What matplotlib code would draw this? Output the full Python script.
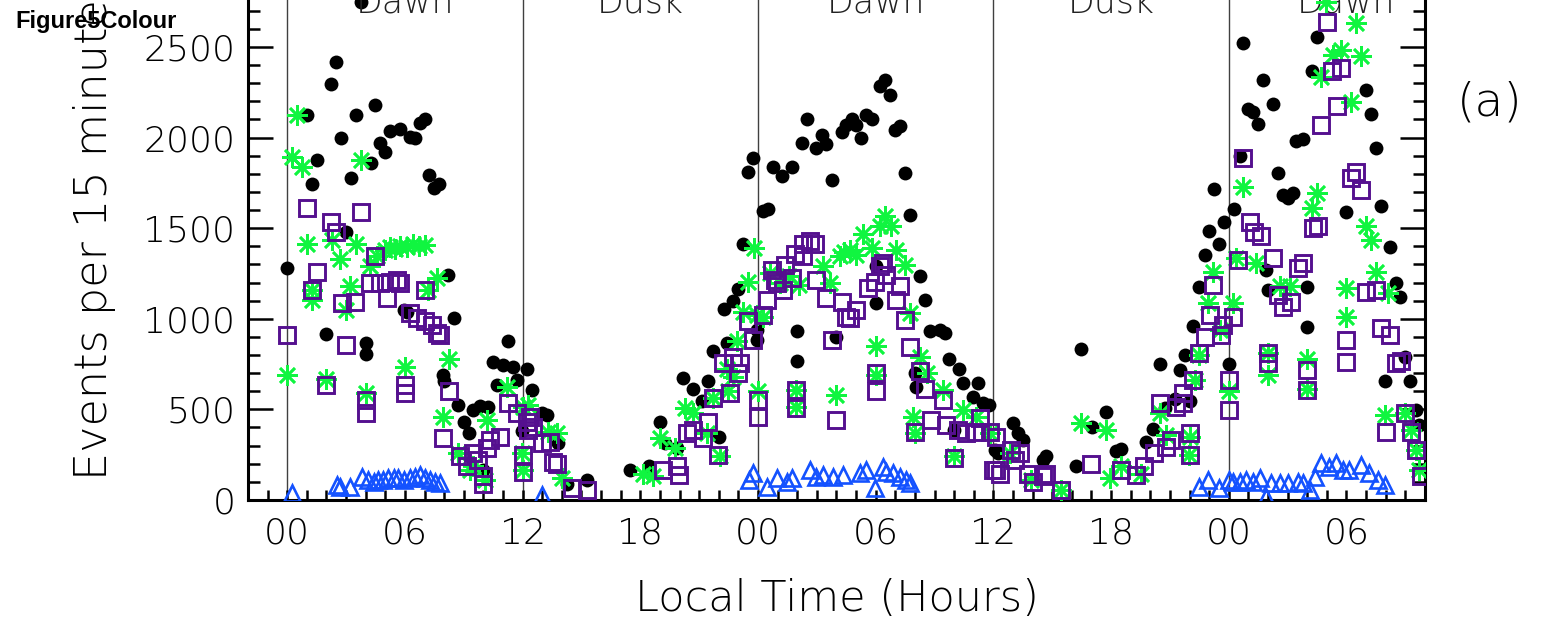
import matplotlib
matplotlib.use("Agg")
import matplotlib.pyplot as plt
from matplotlib.ticker import MultipleLocator, FixedLocator

# Continuous local time (hours since first local midnight) and counts per 15 min
black_t = [0.0, 1.0, 1.24, 1.51, 2.0, 2.24, 2.5, 2.75, 3.0, 3.26, 3.5, 3.75, 4.0, 4.0, 4.28, 4.48,
           4.74, 5.0, 5.25, 5.76, 5.93, 6.1, 6.27, 6.52, 6.78, 7.03, 7.23, 7.5, 7.76, 7.96, 8.0, 8.22,
           8.51, 8.73, 9.02, 9.29, 9.49, 9.83, 10.0, 10.25, 10.51, 10.68, 11.02, 11.24, 11.53, 11.7,
           11.96, 12.24, 12.5, 12.97, 13.23, 13.82, 14.25, 15.27, 17.47, 18.46, 19.0, 19.26, 19.85,
           20.19, 20.7, 21.13, 21.46, 21.72, 22.02, 22.26, 22.43, 22.74, 22.99, 23.24, 23.5, 23.76,
           23.93, 23.96, 24.27, 24.52, 24.74, 25.2, 25.71, 26.0, 26.0, 26.25, 26.5, 26.98, 27.24,
           27.49, 27.75, 27.97, 28.26, 28.51, 28.77, 28.99, 29.24, 29.53, 29.79, 30.0, 30.04, 30.21,
           30.46, 30.72, 30.97, 31.26, 31.48, 31.74, 31.99, 32.03, 32.25, 32.5, 32.76, 33.27, 33.52,
           33.74, 33.98, 34.25, 34.46, 34.96, 35.22, 35.47, 35.78, 36.07, 36.23, 37.0, 37.26, 37.51,
           38.53, 38.7, 40.23, 40.48, 41.04, 41.72, 42.27, 42.52, 43.76, 44.13, 44.47, 44.73, 45.24,
           45.49, 45.75, 46.0, 46.2, 46.47, 46.77, 46.98, 47.24, 47.5, 47.75, 48.0, 48.26, 48.58,
           48.72, 48.97, 49.23, 49.48, 49.74, 49.9, 49.99, 50.25, 50.5, 50.76, 51.01, 51.27, 51.44,
           51.78, 51.98, 51.98, 52.25, 52.49, 53.98, 55.0, 55.25, 55.5, 55.76, 55.98, 56.22, 56.5,
           56.73, 57.0, 57.24, 57.55, 57.72]
black_n = [1280, 2125, 1745, 1875, 915, 2295, 2415, 2000, 1480, 1775, 2125, 2750, 865, 805, 1860, 2180,
           1970, 1920, 2035, 2045, 1050, 1040, 2005, 2000, 2080, 2105, 1795, 1720, 1745, 690, 655, 1240,
           1005, 525, 430, 370, 495, 520, 165, 515, 760, 635, 745, 880, 735, 660,
           380, 725, 605, 480, 470, 315, 90, 110, 165, 190, 430, 315, 285,
           675, 615, 545, 655, 820, 350, 1055, 865, 1100, 1165, 1410, 1810, 1885,
           940, 885, 1595, 1605, 1840, 1790, 1835, 935, 765, 1970, 2105, 1945, 2015,
           1965, 1765, 900, 2030, 2070, 2100, 2070, 1995, 2125, 2100, 1085, 1290, 2285,
           2315, 2235, 2040, 2065, 1805, 1570, 700, 625, 1235, 1105, 935, 940, 920,
           780, 385, 725, 645, 570, 645, 535, 525, 275, 260, 425, 370, 330,
           220, 245, 190, 835, 405, 485, 270, 280, 320, 390, 750, 505, 555,
           720, 800, 545, 960, 1175, 1350, 1485, 1715, 1415, 1535, 750, 1605, 1900,
           2520, 2160, 2140, 2075, 2320, 1270, 1160, 2185, 1805, 1685, 1665, 1695, 1980,
           1990, 1175, 955, 2370, 2555, 1590, 2260, 2130, 1945, 1620, 655, 1395, 1200,
           1120, 790, 655, 495, 415]

green_t = [0.0, 0.24, 0.49, 0.75, 1.0, 1.26, 1.26, 2.0, 2.28, 2.7, 3.0, 3.21, 3.51, 3.75, 4.02, 4.23,
           4.57, 5.0, 5.25, 5.5, 5.76, 6.01, 6.1, 6.4, 6.7, 7.0, 7.2, 7.63, 7.96, 8.25, 8.73, 9.32,
           9.49, 10.09, 10.17, 11.19, 11.96, 12.01, 12.04, 12.29, 13.31, 13.74, 13.99, 18.15, 18.66,
           19.0, 19.77, 20.28, 20.7, 21.38, 21.72, 22.06, 22.4, 22.48, 22.74, 22.91, 23.24, 23.5,
           23.79, 23.93, 24.01, 24.27, 24.6, 25.1, 25.6, 25.96, 25.96, 26.1, 27.3, 27.66, 28.0,
           28.17, 28.4, 28.68, 29.0, 29.36, 29.79, 30.0, 30.0, 30.21, 30.46, 30.8, 31.06, 31.48,
           31.74, 31.9, 31.99, 32.25, 32.59, 33.43, 33.98, 34.46, 35.13, 35.81, 36.83, 37.93, 39.46,
           40.48, 41.72, 41.96, 42.52, 43.52, 44.47, 44.81, 45.97, 46.0, 46.26, 46.47, 46.93, 47.22,
           47.53, 48.0, 48.21, 48.38, 48.7, 49.4, 49.99, 49.99, 50.59, 51.1, 51.98, 51.98, 52.25,
           52.49, 52.71, 52.96, 53.3, 53.73, 53.98, 53.98, 54.23, 54.49, 54.75, 55.0, 55.25, 55.5,
           55.94, 56.1, 56.96, 57.3, 57.55, 57.72]
green_n = [690, 1895, 2125, 1840, 1410, 1160, 1105, 665, 1435, 1330, 1050, 1180, 1410, 1875, 590, 1290,
           1345, 1380, 1395, 1385, 1400, 735, 1395, 1410, 1400, 1405, 1160, 1225, 460, 780, 260, 165,
           185, 110, 440, 625, 260, 165, 515, 525, 375, 370, 120, 145, 130,
           340, 285, 505, 480, 370, 560, 240, 725, 600, 680, 875, 1040, 1205,
           1390, 1020, 600, 1010, 1250, 1195, 1235, 605, 515, 1185, 1290, 1195, 580,
           1345, 1370, 1380, 1350, 1470, 1390, 850, 690, 1510, 1565, 1510, 1380, 1295,
           1030, 460, 370, 790, 700, 605, 240, 495, 460, 370, 260, 110, 55,
           425, 385, 120, 185, 145, 480, 360, 250, 350, 660, 800, 1085, 1260,
           940, 600, 1085, 1335, 1725, 1305, 810, 690, 1180, 1180, 780, 615, 1610,
           1695, 2335, 2750, 2455, 2485, 1170, 1010, 2195, 2630, 2450, 1510, 1435, 1260,
           470, 1140, 480, 385, 275, 165]

purple_t = [0.0, 1.0, 1.26, 1.51, 1.99, 2.23, 2.5, 2.79, 3.0, 3.46, 3.75, 4.02, 4.02, 4.23, 4.48, 4.74,
            5.08, 5.25, 5.59, 5.76, 6.01, 6.01, 6.27, 6.6, 7.03, 7.03, 7.37, 7.63, 7.79, 7.96, 8.27,
            8.81, 9.15, 9.49, 9.75, 10.0, 10.0, 10.17, 10.34, 10.85, 11.27, 11.7, 12.04, 12.04, 12.2,
            12.29, 12.38, 12.55, 12.97, 13.4, 13.57, 13.74, 14.5, 15.27, 19.17, 19.85, 19.98, 20.36,
            20.7, 21.2, 21.46, 21.72, 21.97, 22.23, 22.57, 22.74, 22.99, 23.08, 23.5, 23.75, 24.01,
            24.01, 24.27, 24.44, 24.69, 24.86, 24.95, 25.29, 25.37, 25.71, 25.88, 25.96, 25.96, 26.3,
            26.3, 26.64, 26.9, 26.98, 27.49, 27.75, 28.0, 28.26, 28.51, 28.68, 29.02, 29.62, 29.95,
            30.0, 30.0, 30.21, 30.38, 30.54, 31.06, 31.23, 31.48, 31.74, 31.99, 32.25, 32.5, 32.84,
            33.43, 33.6, 33.98, 34.2, 34.62, 35.13, 35.3, 35.81, 35.98, 36.15, 36.15, 36.32, 36.91,
            37.08, 37.34, 37.76, 38.02, 38.53, 38.7, 39.46, 40.99, 42.52, 43.28, 43.7, 44.21, 44.47,
            44.81, 45.07, 45.32, 45.66, 45.66, 46.0, 46.0, 46.2, 46.47, 46.77, 47.02, 47.22, 47.61,
            47.7, 48.0, 48.0, 48.21, 48.47, 48.72, 49.07, 49.3, 49.66, 49.99, 49.99, 50.25, 50.5,
            50.76, 51.18, 51.52, 51.78, 51.98, 51.98, 52.3, 52.55, 52.71, 53.0, 53.26, 53.5, 53.73,
            53.98, 53.98, 54.23, 54.49, 54.75, 55.0, 55.48, 55.76, 56.02, 56.2, 56.53, 56.79, 56.96,
            57.3, 57.55, 57.81]
purple_n = [910, 1610, 1160, 1260, 635, 1535, 1480, 1085, 855, 1095, 1590, 550, 480, 1195, 1345, 1195,
            1115, 1205, 1215, 1195, 635, 590, 1030, 1005, 985, 1160, 965, 920, 910, 340, 600,
            240, 185, 260, 220, 130, 90, 285, 330, 350, 535, 480, 250, 155, 430,
            385, 460, 405, 315, 320, 210, 200, 65, 55, 165, 185, 140, 370,
            385, 340, 430, 560, 250, 755, 590, 790, 700, 755, 985, 885, 550,
            460, 1020, 1105, 1270, 1215, 1195, 1160, 1295, 1225, 1360, 605, 505, 1345,
            1410, 1430, 1410, 1215, 1115, 885, 440, 1095, 1010, 1005, 1050, 1170, 1205,
            700, 600, 1290, 1305, 1240, 1105, 1180, 995, 845, 375, 710, 615, 440,
            550, 415, 230, 385, 370, 375, 450, 375, 165, 350, 165, 145, 275,
            220, 260, 145, 100, 130, 145, 55, 200, 165, 140, 185, 260, 535,
            295, 330, 515, 535, 590, 370, 250, 660, 810, 900, 1020, 1185, 910,
            965, 660, 495, 1010, 1325, 1885, 1535, 1480, 1455, 810, 755, 1335, 1130,
            1065, 1095, 1280, 1305, 720, 605, 1500, 1510, 2070, 2640, 2370, 2175, 2385,
            885, 760, 1775, 1810, 1710, 1150, 1160, 950, 375, 910, 755, 765, 480,
            375, 275, 130]

blue_t = [0.24, 2.53, 2.7, 3.21, 3.8, 4.14, 4.4, 4.65, 4.9, 5.16, 5.42, 5.67, 5.93, 6.27, 6.52, 6.78,
          7.03, 7.28, 7.54, 7.79, 12.97, 23.55, 23.77, 24.44, 24.95, 25.46, 25.71, 26.64, 26.98,
          27.32, 27.83, 28.34, 29.19, 29.53, 29.95, 30.38, 30.55, 30.89, 31.23, 31.57, 31.74, 46.5,
          46.93, 47.5, 48.0, 48.21, 48.55, 48.89, 49.23, 49.57, 49.9, 50.16, 50.59, 51.01, 51.52,
          51.78, 52.12, 52.37, 52.71, 53.13, 53.47, 53.81, 54.15, 54.75, 55.17, 55.6, 55.94]
blue_n = [37, 83, 73, 73, 129, 110, 101, 110, 110, 120, 120, 120, 110, 120, 129, 138,
          120, 110, 101, 92, 28, 110, 150, 73, 120, 101, 120, 166, 129,
          138, 129, 138, 147, 166, 65, 184, 156, 147, 129, 110, 92, 73,
          110, 65, 110, 101, 101, 110, 101, 120, 18, 92, 92, 92, 101,
          92, 55, 129, 202, 184, 202, 166, 166, 193, 147, 110, 83]

sectors = ["Dawn", "Dusk", "Dawn", "Dusk", "Dawn"]
sector_mid = [6, 18, 30, 42, 54]
dividers = [0, 12, 24, 36, 48]
hour_ticks = list(range(0, 55, 6))
hour_labels = ["%02d" % (h % 24) for h in hour_ticks]

plt.rcParams['font.family'] = ['DejaVu Sans']
plt.rcParams['font.weight'] = 'light'
plt.rcParams['axes.labelweight'] = 'light'

fig = plt.figure(figsize=(15.45, 6.27), dpi=100)
# axes run past the top edge of the figure
ax = fig.add_axes([0.1605, 0.2026, 0.7618, 0.867])

for x in dividers:
    ax.axvline(x, color='#404040', lw=1.0, zorder=1)

ax.plot(black_t, black_n, 'o', color='black', ms=10, mew=0, zorder=3)
ax.plot(green_t, green_n, linestyle='none', marker=(8, 2, 0), color='#10F540',
        ms=15, mew=1.9, zorder=4)
ax.plot(purple_t, purple_n, 's', mfc='none', mec='#55108F', ms=11.5, mew=2.1, zorder=5)
ax.plot(blue_t, blue_n, '^', mfc='none', mec='#1452FF', ms=11.5, mew=1.9, zorder=6)

for x, s in zip(sector_mid, sectors):
    ax.text(x, 2690, s, ha='center', va='baseline', fontsize=25, color='#222222')

ax.set_xlim(-2, 58)
ax.set_ylim(0, 3000)
ax.xaxis.set_major_locator(FixedLocator(hour_ticks))
ax.set_xticklabels(hour_labels)
ax.xaxis.set_minor_locator(MultipleLocator(1))
ax.yaxis.set_major_locator(MultipleLocator(500))
ax.yaxis.set_minor_locator(MultipleLocator(100))

ax.tick_params(which='both', direction='in', top=True, right=True, width=1.8, labelsize=26)
ax.tick_params(axis='y', which='major', length=18, pad=9)
ax.tick_params(axis='y', which='minor', length=8.6)
ax.tick_params(axis='x', which='major', length=7.5, pad=12)
ax.tick_params(axis='x', which='minor', length=7.5)
for sp in ax.spines.values():
    sp.set_linewidth(2.2)

ax.set_xlabel('Local Time (Hours)', fontsize=31, labelpad=20)
fig.text(0.061, 0.2344, 'Events per 15 minutes', rotation=90, ha='center', va='bottom',
         fontsize=32)
fig.text(0.964, 0.836, '(a)', ha='center', va='center', fontsize=34)
fig.text(0.0097, 0.965, 'Figure5Colour', ha='left', va='center', fontsize=17,
         fontweight='bold', family='Liberation Sans')

fig.savefig('out.png', dpi=100)
